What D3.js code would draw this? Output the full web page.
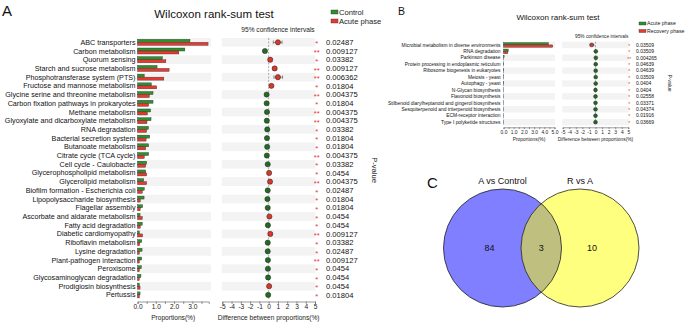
<!DOCTYPE html>
<html>
<head>
<meta charset="utf-8">
<script src="https://cdn.jsdelivr.net/npm/d3@7"></script>
<style>
  body { margin: 0; background: #fff; }
  svg { display: block; font-family: "Liberation Sans", Arial, sans-serif; }
</style>
</head>
<body>
<svg id="chart" width="685" height="323"></svg>
<script>
// ---- Panel A data ----
const pathwaysA = ["ABC transporters", "Carbon metabolism", "Quorum sensing", "Starch and sucrose metabolism",
  "Phosphotransferase system (PTS)", "Fructose and mannose metabolism", "Glycine serine and threonine metabolism",
  "Carbon fixation pathways in prokaryotes", "Methane metabolism", "Glyoxylate and dicarboxylate metabolism",
  "RNA degradation", "Bacterial secretion system", "Butanoate metabolism", "Citrate cycle (TCA cycle)",
  "Cell cycle - Caulobacter", "Glycerophospholipid metabolism", "Glycerolipid metabolism",
  "Biofilm formation - Escherichia coli", "Lipopolysaccharide biosynthesis", "Flagellar assembly",
  "Ascorbate and aldarate metabolism", "Fatty acid degradation", "Diabetic cardiomyopathy",
  "Riboflavin metabolism", "Lysine degradation", "Plant-pathogen interaction", "Peroxisome",
  "Glycosaminoglycan degradation", "Prodigiosin biosynthesis", "Pertussis"];
const controlA = [2.87, 2.59, 1.36, 1.07, 0.37, 0.76, 0.85, 0.85, 0.72, 0.74, 0.60, 0.67, 0.61, 0.61, 0.50,
  0.45, 0.34, 0.37, 0.36, 0.28, 0.14, 0.26, 0.10, 0.23, 0.25, 0.23, 0.21, 0.19, 0.10, 0.14];
const acuteA = [3.86, 2.26, 1.55, 1.73, 1.44, 1.05, 0.65, 0.61, 0.54, 0.52, 0.50, 0.47, 0.45, 0.37, 0.45,
  0.50, 0.50, 0.26, 0.15, 0.15, 0.26, 0.15, 0.28, 0.12, 0.10, 0.10, 0.10, 0.10, 0.14, 0.10];
const diffA = [1.0, -0.4, 0.17, 0.65, 1.0, 0.3, -0.22, -0.22, -0.18, -0.2, -0.15, -0.18, -0.16, -0.2, -0.1,
  0.05, 0.15, -0.1, -0.13, -0.1, 0.08, -0.08, 0.18, -0.1, -0.1, -0.08, -0.08, -0.06, 0.05, -0.05];
const ciLowA = [0.5, -0.55, 0.05, 0.45, 0.57, 0.18, -0.32, -0.32, -0.28, -0.3, -0.25, -0.28, -0.26, -0.3, -0.2,
  -0.05, 0.05, -0.2, -0.23, -0.2, -0.02, -0.18, 0.08, -0.2, -0.2, -0.18, -0.18, -0.16, -0.05, -0.15];
const ciHighA = [1.45, -0.25, 0.3, 0.85, 1.5, 0.42, -0.12, -0.12, -0.08, -0.1, -0.05, -0.08, -0.06, -0.1, 0.0,
  0.15, 0.25, 0.0, -0.03, 0.0, 0.18, 0.02, 0.28, 0.0, 0.0, 0.02, 0.02, 0.04, 0.15, 0.05];
const pvalA = ["0.02487", "0.009127", "0.03382", "0.009127", "0.006362", "0.01804", "0.004375", "0.01804",
  "0.004375", "0.004375", "0.03382", "0.01804", "0.01804", "0.004375", "0.03382", "0.0454", "0.004375",
  "0.02487", "0.01804", "0.01804", "0.0454", "0.0454", "0.009127", "0.03382", "0.02487", "0.009127",
  "0.0454", "0.0454", "0.0454", "0.01804"];

// ---- Panel B data ----
const pathwaysB = ["Microbial metabolism in diverse environments", "RNA degradation", "Parkinson disease",
  "Protein processing in endoplasmic reticulum", "Ribosome biogenesis in eukaryotes", "Meiosis - yeast",
  "Autophagy - yeast", "N-Glycan biosynthesis", "Flavonoid biosynthesis",
  "Stilbenoid diarylheptanoid and gingerol biosynthesis", "Sesquiterpenoid and triterpenoid biosynthesis",
  "ECM-receptor interaction", "Type I polyketide structures"];
const acuteB = [4.4, 0.47, 0.06, 0.03, 0.03, 0.03, 0.03, 0.01, 0.01, 0.01, 0.01, 0.01, 0.01];
const recoveryB = [4.83, 0.43, 0.01, 0.005, 0.005, 0.005, 0.005, 0.005, 0.005, 0.005, 0.005, 0.005, 0.005];
const diffB = [-0.58, 0.05, 0.05, 0.03, 0.03, 0.03, 0.03, 0.0, 0.0, 0.0, 0.0, 0.0, 0.0];
const ciLowB = [-0.85, 0.0, 0.0, 0.0, 0.0, 0.0, 0.0, -0.03, -0.03, -0.03, -0.03, -0.03, -0.03];
const ciHighB = [-0.25, 0.1, 0.1, 0.06, 0.06, 0.06, 0.06, 0.03, 0.03, 0.03, 0.03, 0.03, 0.03];
const pvalB = ["0.03509", "0.03509", "0.004265", "0.04639", "0.04639", "0.03509", "0.0404", "0.0404",
  "0.02558", "0.03371", "0.04374", "0.01916", "0.03669"];

// ---- Panel C data ----
const vennSets = ["A vs Control", "R vs A"];
const vennCounts = [84, 3, 10]; // only left, shared, only right

const GREEN = "#2f8f2f", RED = "#e8392f";
const svg = d3.select("#chart");
svg.append("rect").attr("width", 685).attr("height", 323).attr("fill", "#fff");

function drawPanel(cfg) {
  const g = svg.append("g");
  const n = cfg.names.length;
  const rowY = i => cfg.y0 + i * cfg.step;
  const xBar = d3.scaleLinear().domain(cfg.barDomain).range(cfg.barRange);
  const xCi = d3.scaleLinear().domain([-5, 5]).range(cfg.ciRange);
  const half = cfg.step / 2;

  // striped backgrounds
  cfg.names.forEach((d, i) => {
    if (i % 2 === 0) {
      g.append("rect").attr("x", cfg.barBand[0]).attr("y", rowY(i) - half)
        .attr("width", cfg.barBand[1] - cfg.barBand[0]).attr("height", cfg.step).attr("fill", "#f3f3f3");
      g.append("rect").attr("x", cfg.ciRange[0] - 0.5).attr("y", rowY(i) - half)
        .attr("width", cfg.ciRange[1] - cfg.ciRange[0] + 1).attr("height", cfg.step).attr("fill", "#f3f3f3");
    }
  });

  // row labels
  g.selectAll(".rowlab").data(cfg.names).join("text")
    .attr("class", "rowlab")
    .attr("x", cfg.labelX).attr("y", (d, i) => rowY(i))
    .attr("dy", "0.35em").attr("text-anchor", "end")
    .attr("font-size", cfg.labelFont).attr("fill", "#111").text(d => d);

  // bars
  const bh = cfg.barH;
  g.selectAll(".b1").data(cfg.s1).join("rect")
    .attr("class", "b1")
    .attr("x", xBar(0)).attr("y", (d, i) => rowY(i) - bh)
    .attr("width", d => xBar(d) - xBar(0)).attr("height", bh)
    .attr("fill", GREEN).attr("stroke", "#333").attr("stroke-width", 0.4);
  g.selectAll(".b2").data(cfg.s2).join("rect")
    .attr("class", "b2")
    .attr("x", xBar(0)).attr("y", (d, i) => rowY(i))
    .attr("width", d => xBar(d) - xBar(0)).attr("height", bh)
    .attr("fill", RED).attr("stroke", "#333").attr("stroke-width", 0.4);

  // axes
  const axY = cfg.axisY;
  const barTicks = d3.range(cfg.barDomain[0], cfg.barDomain[1] + 0.01, 0.5);
  const ab = g.append("g").attr("transform", `translate(0,${axY})`)
    .call(d3.axisBottom(xBar).tickValues(barTicks).tickSize(cfg.tickSize)
      .tickFormat(d => Number.isInteger(d) ? d.toFixed(1) : ""));
  const ac = g.append("g").attr("transform", `translate(0,${axY})`)
    .call(d3.axisBottom(xCi).tickValues(d3.range(-5, 6)).tickSize(cfg.tickSize).tickFormat(d => String(d)));
  [ab, ac].forEach(a => {
    a.select(".domain").attr("stroke", "#555").attr("stroke-width", 0.6);
    a.selectAll(".tick line").attr("stroke", "#555").attr("stroke-width", 0.6);
    a.selectAll(".tick text").attr("font-size", cfg.tickFont).attr("fill", "#222").attr("dy", "0.6em")
      .attr("y", cfg.tickSize + 1.5);
  });

  g.append("text").attr("x", (cfg.barRange[0] + cfg.barRange[1]) / 2).attr("y", cfg.axisTitleY)
    .attr("text-anchor", "middle").attr("font-size", cfg.tickFont).attr("fill", "#222").text("Proportions(%)");
  g.append("text").attr("x", (cfg.ciRange[0] + cfg.ciRange[1]) / 2).attr("y", cfg.axisTitleY)
    .attr("text-anchor", "middle").attr("font-size", cfg.tickFont).attr("fill", "#222")
    .text("Difference between proportions(%)");

  // zero dashed line
  g.append("line").attr("x1", xCi(0)).attr("x2", xCi(0))
    .attr("y1", rowY(0) - half).attr("y2", rowY(n - 1) + half)
    .attr("stroke", "#777").attr("stroke-width", 0.6).attr("stroke-dasharray", "2,1.5");

  // confidence intervals + dots
  cfg.diff.forEach((d, i) => {
    const y = rowY(i);
    const col = cfg.s2[i] > cfg.s1[i] ? RED : GREEN;
    const lo = xCi(cfg.ciLow[i]), hi = xCi(cfg.ciHigh[i]);
    g.append("line").attr("x1", lo).attr("x2", hi).attr("y1", y).attr("y2", y)
      .attr("stroke", "#333").attr("stroke-width", 0.5);
    [lo, hi].forEach(x => g.append("line").attr("x1", x).attr("x2", x)
      .attr("y1", y - cfg.capH).attr("y2", y + cfg.capH).attr("stroke", "#333").attr("stroke-width", 0.5));
    g.append("circle").attr("cx", xCi(d)).attr("cy", y).attr("r", cfg.dotR)
      .attr("fill", col === RED ? "#d8382c" : "#236b23").attr("stroke", "#222").attr("stroke-width", 0.5);
  });

  // stars and p-values
  g.selectAll(".star").data(cfg.pval).join("text")
    .attr("class", "star")
    .attr("x", cfg.starX).attr("y", (d, i) => rowY(i)).attr("dy", "0.55em")
    .attr("text-anchor", "middle").attr("font-size", cfg.pFont).attr("fill", RED)
    .text(d => +d < 0.01 ? "**" : "*");
  g.selectAll(".pv").data(cfg.pval).join("text")
    .attr("class", "pv")
    .attr("x", cfg.pX).attr("y", (d, i) => rowY(i)).attr("dy", "0.35em")
    .attr("font-size", cfg.pFont).attr("fill", "#111").text(d => d);
  g.append("text").attr("transform", `translate(${cfg.pLab[0]},${cfg.pLab[1]}) rotate(90)`)
    .attr("text-anchor", "middle").attr("font-size", cfg.pFont).attr("fill", "#222").text("P-value");

  // titles
  g.append("text").attr("x", cfg.title[0]).attr("y", cfg.title[1]).attr("text-anchor", "middle")
    .attr("font-size", cfg.titleFont).attr("fill", "#111").text("Wilcoxon rank-sum test");
  g.append("text").attr("x", cfg.ciTitle[0]).attr("y", cfg.ciTitle[1]).attr("text-anchor", "middle")
    .attr("font-size", cfg.ciTitleFont).attr("fill", "#222").text("95% confidence intervals");
  g.append("text").attr("x", cfg.letter[0]).attr("y", cfg.letter[1])
    .attr("font-size", cfg.letterFont).attr("fill", "#111").text(cfg.letter[2]);

  // legend
  cfg.legend.forEach((lab, i) => {
    const ly = cfg.legendY + i * cfg.legendStep;
    g.append("rect").attr("x", cfg.legendX).attr("y", ly - cfg.legendH / 2).attr("width", 7)
      .attr("height", cfg.legendH).attr("fill", i === 0 ? GREEN : RED).attr("stroke", "#333").attr("stroke-width", 0.4);
    g.append("text").attr("x", cfg.legendX + 8).attr("y", ly).attr("dy", "0.35em")
      .attr("font-size", cfg.legendFont).attr("fill", "#222").text(lab);
  });
}

drawPanel({
  names: pathwaysA, s1: controlA, s2: acuteA, diff: diffA, ciLow: ciLowA, ciHigh: ciHighA, pval: pvalA,
  y0: 42.3, step: 8.71, labelX: 135.5, labelFont: 7.2, barH: 3,
  barDomain: [0, 3.9], barRange: [137.5, 208.8], barBand: [137, 211], ciRange: [222.3, 315],
  axisY: 301.5, tickSize: 2.5, tickFont: 6.6, axisTitleY: 320,
  capH: 1.8, dotR: 2.6, starX: 316.7, pX: 326, pFont: 7.6, pLab: [372, 170],
  title: [214, 18], titleFont: 11.5, ciTitle: [278, 31.5], ciTitleFont: 6.6,
  letter: [2, 16, "A"], letterFont: 15,
  legend: ["Control", "Acute phase"], legendX: 331, legendY: 12, legendStep: 9, legendH: 4, legendFont: 7.6
});

drawPanel({
  names: pathwaysB, s1: acuteB, s2: recoveryB, diff: diffB, ciLow: ciLowB, ciHigh: ciHighB, pval: pvalB,
  y0: 44.9, step: 6.44, labelX: 500.5, labelFont: 4.9, barH: 2.3,
  barDomain: [0, 5], barRange: [503.5, 554.5], barBand: [503, 555], ciRange: [562.7, 628.3],
  axisY: 127.3, tickSize: 1.8, tickFont: 4.9, axisTitleY: 141,
  capH: 1.3, dotR: 1.9, starX: 629.3, pX: 636, pFont: 5, pLab: [668, 83],
  title: [558, 20], titleFont: 8, ciTitle: [601.7, 37.5], ciTitleFont: 4.8,
  letter: [398, 15, "B"], letterFont: 10.5,
  legend: ["Acute phase", "Recovery phase"], legendX: 639, legendY: 23.5, legendStep: 7.5, legendH: 3, legendFont: 5.2
});

// ---- Panel C: Venn ----
const venn = svg.append("g");
const vx = d3.scaleLinear().domain([0, 1]).range([502.5, 580]);
const r = 59;
const cy = 248;
venn.append("circle").attr("cx", vx(0)).attr("cy", cy).attr("r", r).attr("fill", "#0000ff").attr("fill-opacity", 0.5);
venn.append("circle").attr("cx", vx(1)).attr("cy", cy).attr("r", r).attr("fill", "#ffff00").attr("fill-opacity", 0.5);
[0, 1].forEach(k => venn.append("circle").attr("cx", vx(k)).attr("cy", cy).attr("r", r)
  .attr("fill", "none").attr("stroke", "#222").attr("stroke-width", 0.8));
vennSets.forEach((s, k) => venn.append("text").attr("x", vx(k)).attr("y", 184).attr("text-anchor", "middle")
  .attr("font-size", 9).attr("fill", "#111").text(s));
const countX = [vx(0) - 13, (vx(0) + vx(1)) / 2, vx(1) + 12];
vennCounts.forEach((c, k) => venn.append("text").attr("x", countX[k]).attr("y", cy).attr("dy", "0.35em")
  .attr("text-anchor", "middle").attr("font-size", 9).attr("fill", "#111").text(c));
venn.append("text").attr("x", 427).attr("y", 188).attr("font-size", 15).attr("fill", "#111").text("C");
</script>
</body>
</html>
